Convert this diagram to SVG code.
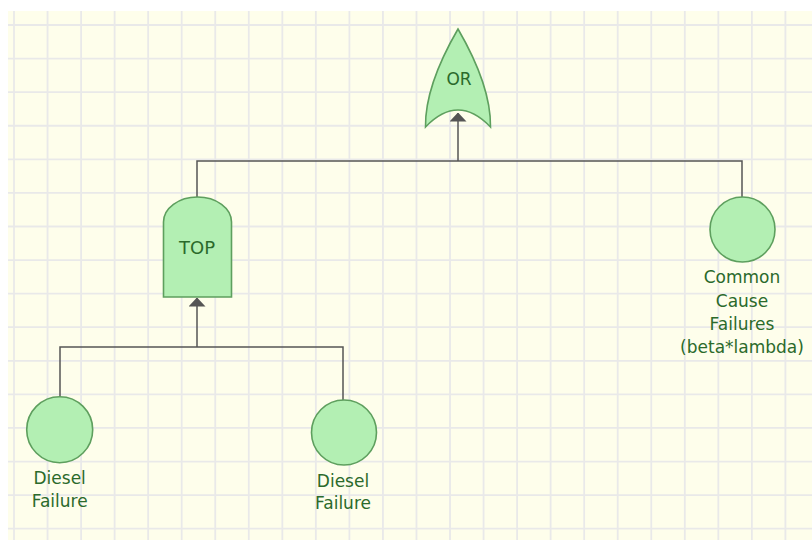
<svg xmlns="http://www.w3.org/2000/svg" width="812" height="540" viewBox="0 0 812 540">
<defs>
<style>
.grid{stroke:#e9e9e9;stroke-width:1.8;fill:none}
.gate{fill:#b3efb3;stroke:#5e9f5e;stroke-width:1.6}
.conn{stroke:#555;stroke-width:1.5;fill:none}
.lbl{font-family:"DejaVu Sans",Verdana,sans-serif;font-size:17px;fill:#2b6a2b;text-anchor:middle}
</style>
<marker id="arr" markerUnits="userSpaceOnUse" viewBox="0 0 9 17" refX="8.5" refY="8.5" markerWidth="9" markerHeight="17" orient="auto">
<path d="M0,0 L9,8.5 L0,17 Z" fill="#555"/>
</marker>
</defs>
<rect x="0" y="0" width="812" height="540" fill="#ffffff"/>
<rect x="8" y="11" width="804" height="529" fill="#fefeeb"/>
<g id="grid" class="grid">
<path d="M14,11V540M47.54,11V540M81.08,11V540M114.62,11V540M148.16,11V540M181.7,11V540M215.24,11V540M248.78,11V540M282.32,11V540M315.86,11V540M349.4,11V540M382.94,11V540M416.48,11V540M450.02,11V540M483.56,11V540M517.1,11V540M550.64,11V540M584.18,11V540M617.72,11V540M651.26,11V540M684.8,11V540M718.34,11V540M751.88,11V540M785.42,11V540"/>
<path d="M8,25H812M8,58.58H812M8,92.16H812M8,125.74H812M8,159.32H812M8,192.9H812M8,226.48H812M8,260.06H812M8,293.64H812M8,327.22H812M8,360.8H812M8,394.38H812M8,427.96H812M8,461.54H812M8,495.12H812M8,528.7H812"/>
</g>
<g id="connectors">
<path class="conn" d="M197,197V161H742V197"/>
<path class="conn" d="M458,161V113" marker-end="url(#arr)"/>
<path class="conn" d="M60,397V347H343V400"/>
<path class="conn" d="M197,347V298" marker-end="url(#arr)"/>
</g>
<g id="or-gate">
<path class="gate" d="M458,29 C440,60 425,95 425.5,127 Q458,93 490.5,127 C491,95 476,60 458,29 Z"/>
<text class="lbl" x="459" y="85">OR</text>
</g>
<g id="top-gate">
<path class="gate" d="M163.5,297 V222 A34,25 0 0 1 231.5,222 V297 Z"/>
<text class="lbl" x="197" y="254" style="font-size:18px">TOP</text>
</g>
<g id="ccf">
<circle class="gate" cx="742.5" cy="229.5" r="32.5"/>
<text class="lbl" x="742" y="283">Common</text>
<text class="lbl" x="742" y="306.5">Cause</text>
<text class="lbl" x="742" y="330">Failures</text>
<text class="lbl" x="742" y="353">(beta*lambda)</text>
</g>
<g id="diesel1">
<circle class="gate" cx="59.7" cy="429.7" r="33"/>
<text class="lbl" x="59.7" y="484.3">Diesel</text>
<text class="lbl" x="59.7" y="506.5">Failure</text>
</g>
<g id="diesel2">
<circle class="gate" cx="344" cy="432.5" r="32.5"/>
<text class="lbl" x="343" y="486.5">Diesel</text>
<text class="lbl" x="343" y="508.5">Failure</text>
</g>
</svg>
